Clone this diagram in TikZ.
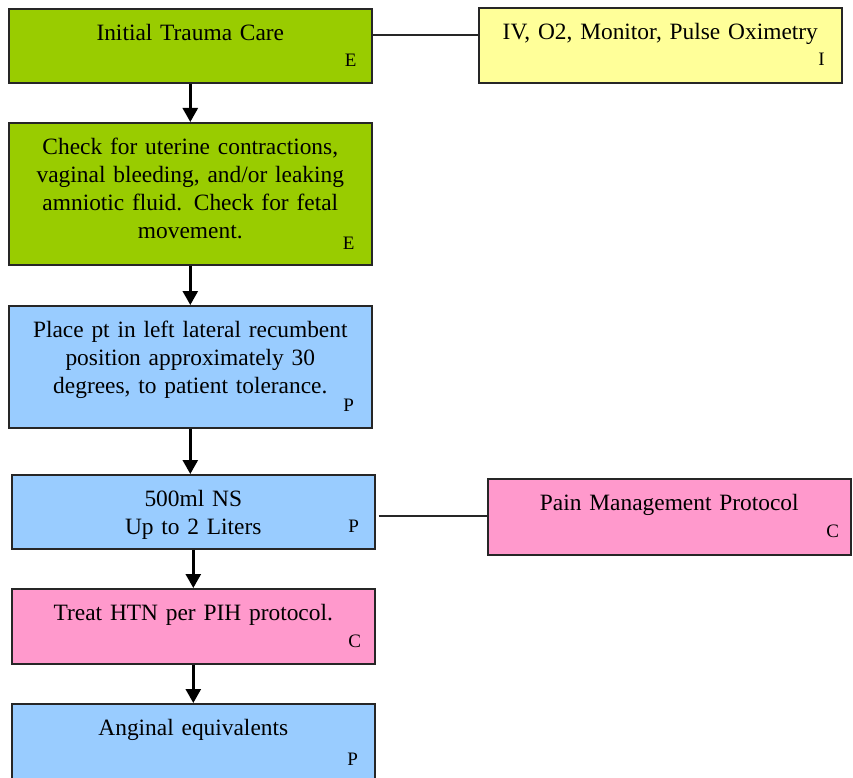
\documentclass[tikz,border=0pt]{standalone}
\usepackage{fontspec}
\setmainfont[WordSpace=1.3]{Liberation Serif}
\usetikzlibrary{positioning,arrows.meta}
\definecolor{grn}{HTML}{99CC00}
\definecolor{ylw}{HTML}{FFFF99}
\definecolor{blu}{HTML}{99CCFF}
\definecolor{pnk}{HTML}{FF99CC}

\begin{document}
\begin{tikzpicture}[x=1pt, y=-1pt,
  box/.style={draw=black!85, line width=1.6pt, anchor=north west, inner sep=0pt,
    text width=363pt, align=center, text height=32pt,
    font=\fontsize{23.4}{27.8}\selectfont},
  tag/.style={anchor=base, inner sep=0pt, font=\fontsize{19}{21}\selectfont},
  arrow/.style={line width=2.6pt, -{Triangle[width=15pt,length=14pt]}},
  link/.style={line width=1.3pt, draw=black!85}]
\useasboundingbox (0,0) rectangle (853,778);

\node[box, fill=grn, text depth=42pt] (care) at (8,8) {Initial Trauma Care};
\node[box, fill=ylw, text depth=43pt] (iv) at (478,7) {IV, O2, Monitor, Pulse Oximetry};
\node[box, fill=grn, text depth=110pt] (check) at (8,122)
  {Check for uterine contractions,\\ vaginal bleeding, and/or leaking\\ amniotic fluid. Check for fetal\\ movement.};
\node[box, fill=blu, text depth=90pt] (place) at (8,305)
  {Place pt in left lateral recumbent\\ position approximately 30\\ degrees, to patient tolerance.};
\node[box, fill=blu, text depth=42pt] (fluids) at (11,474) {500ml NS\\ Up to 2 Liters};
\node[box, fill=pnk, text depth=44pt] (pain) at (487,478) {Pain Management Protocol};
\node[box, fill=pnk, text depth=43pt] (htn) at (11,588) {Treat HTN per PIH protocol.};
\node[box, fill=blu, text depth=46pt] (angina) at (11,703) {Anginal equivalents};

% level letters in the lower right corners
\node[tag] (care-e) at ([shift={(-22,-17)}]care.south east) {E};
\node[tag] (iv-i) at ([shift={(-21,-18)}]iv.south east) {I};
\node[tag] (check-e) at ([shift={(-24,-16)}]check.south east) {E};
\node[tag] (place-p) at ([shift={(-24,-17)}]place.south east) {P};
\node[tag] (fluids-p) at ([shift={(-22,-17)}]fluids.south east) {P};
\node[tag] (pain-c) at ([shift={(-19,-18)}]pain.south east) {C};
\node[tag] (htn-c) at ([shift={(-21,-17)}]htn.south east) {C};
\node[tag] (angina-p) at ([shift={(-23,-17)}]angina.south east) {P};

\draw[arrow] (care.south) -- (check.north);
\draw[arrow] (check.south) -- (place.north);
\draw[arrow] (place.south) -- (place.south |- fluids.north);
\draw[arrow] (fluids.south) -- (htn.north);
\draw[arrow] (htn.south) -- (angina.north);

\draw[link] ([yshift=-27pt]care.north east) -- ([yshift=-27pt]care.north east -| iv.west);
\draw[link] ([xshift=3pt,yshift=-42pt]fluids.north east) -- ([yshift=-42pt]fluids.north east -| pain.west);
\end{tikzpicture}
\end{document}
